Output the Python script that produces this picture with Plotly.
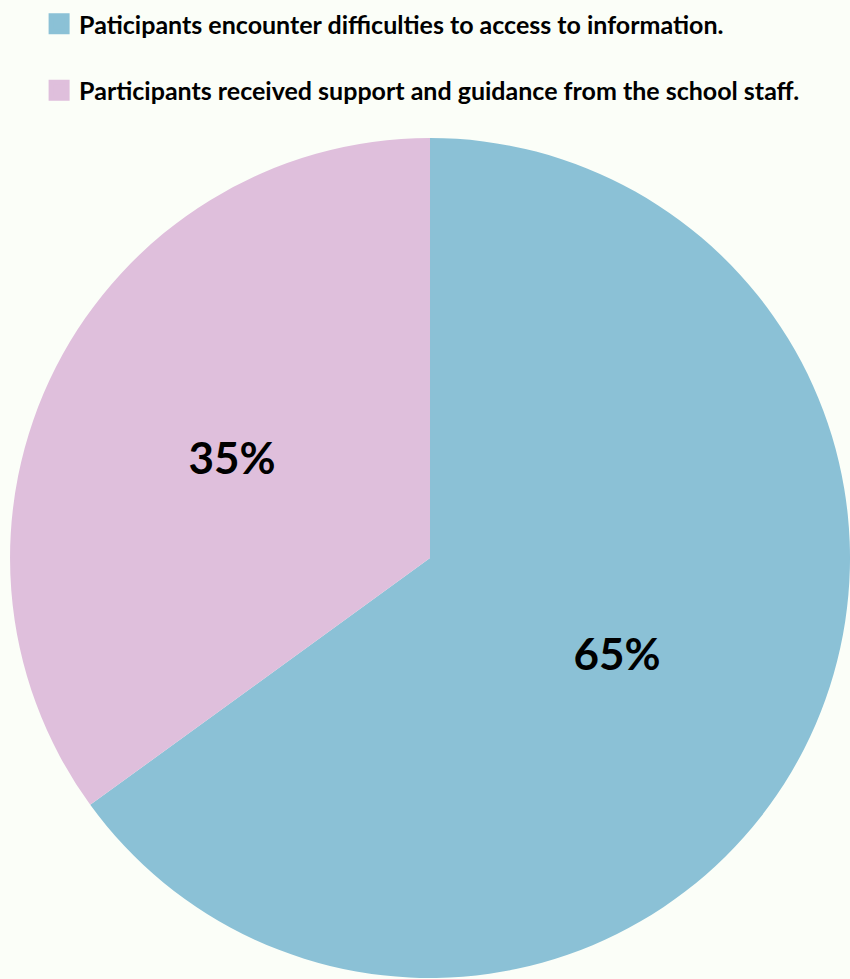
import plotly.graph_objects as go

labels = ["Paticipants encounter difficulties to access to information.",
          "Participants received support and guidance from the school staff."]
values = [65, 35]
colors = ["#8BC1D6", "#DFBFDC"]
bg = "#FBFEF8"

fig = go.Figure()
fig.add_trace(go.Pie(
    labels=labels, values=values, sort=False, direction="clockwise", rotation=0,
    marker=dict(colors=colors, line=dict(width=0)),
    texttemplate="%{percent:.0%}", textposition="inside",
    insidetextorientation="horizontal",
    textfont=dict(family="Lato", size=44, color="black", weight="bold"),
    showlegend=False, hoverinfo="label+percent",
    domain=dict(x=[0.0118, 1.0], y=[0.0, 1.0]),
))
for i, (lab, col) in enumerate(zip(labels, colors)):
    fig.add_trace(go.Scatter(
        x=[None], y=[None], mode="markers", name=lab, legendgroup=f"g{i}",
        marker=dict(symbol="square", size=16, color=col, line=dict(color=col, width=5)),
        showlegend=True,
    ))

fig.update_layout(
    width=850, height=979,
    margin=dict(l=0, r=0, t=138, b=1),
    paper_bgcolor=bg, plot_bgcolor=bg,
    xaxis=dict(visible=False), yaxis=dict(visible=False),
    showlegend=True,
    legend=dict(x=0.046, xanchor="left", y=1.163, yanchor="top",
                bgcolor="rgba(0,0,0,0)", traceorder="grouped", tracegroupgap=31,
                font=dict(family="Lato", size=25, color="black", weight="bold"),
                itemsizing="trace"),
)
fig.write_html("out.html")
